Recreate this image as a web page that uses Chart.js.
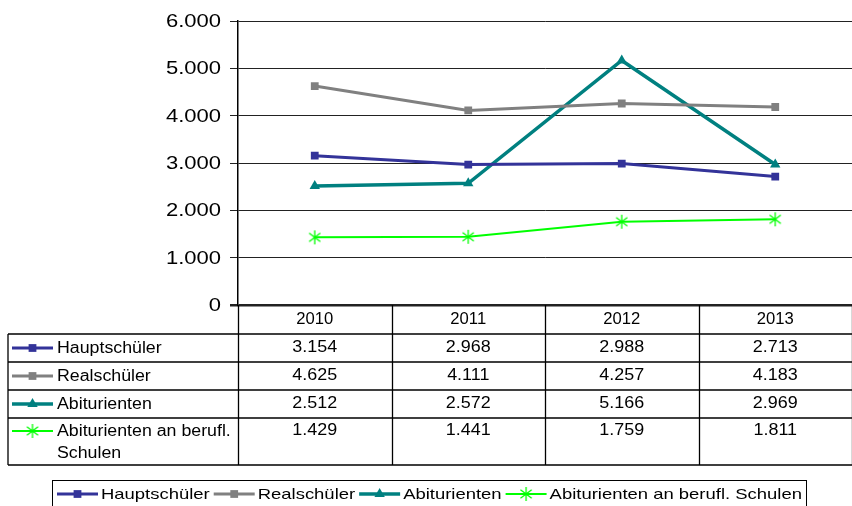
<!DOCTYPE html>
<html lang="de">
<head>
<meta charset="utf-8">
<title>Schulabgänger 2010–2013</title>
<script src="https://cdn.jsdelivr.net/npm/chart.js@4/dist/chart.umd.min.js"></script>
<style>
  html, body { margin: 0; padding: 0; background: #fff; overflow: hidden; }
  #wrap { width: 852px; height: 506px; position: relative; }
</style>
</head>
<body>
<div id="wrap"><canvas id="schulChart"></canvas></div>
<script>
// --- Daten ---
const years = ['2010', '2011', '2012', '2013'];
const hauptschueler = [3154, 2968, 2988, 2713];
const realschueler = [4625, 4111, 4257, 4183];
const abiturienten = [2512, 2572, 5166, 2969];
const abiBerufl = [1429, 1441, 1759, 1811];
const yTicks = [0, 1000, 2000, 3000, 4000, 5000, 6000];

const FONT = '"Liberation Sans", Arial, sans-serif';

// Zahl im deutschen Format (Tausenderpunkt)
function fmt(v) {
    return String(v).replace(/\B(?=(\d{3})+(?!\d))/g, '.');
}

// Text leicht horizontal gestreckt zeichnen
function drawText(ctx, text, x, y, align, sx) {
    ctx.save();
    ctx.translate(x, y);
    ctx.scale(sx, 1);
    ctx.textAlign = align;
    ctx.fillText(text, 0, 0);
    ctx.restore();
}

// Stern-Marker (X + senkrechter Strich)
function starMarker(color, size) {
    const c = document.createElement('canvas');
    c.width = c.height = size;
    const g = c.getContext('2d');
    g.strokeStyle = color;
    g.lineWidth = 1.3;
    const m = size / 2, r = size / 2 - 1;
    g.beginPath();
    g.moveTo(m - r * 0.8, m - r * 0.6); g.lineTo(m + r * 0.8, m + r * 0.6);
    g.moveTo(m + r * 0.8, m - r * 0.6); g.lineTo(m - r * 0.8, m + r * 0.6);
    g.moveTo(m, m - r); g.lineTo(m, m + r);
    g.stroke();
    return c;
}

const datasets = [
    { label: 'Hauptschüler', data: hauptschueler, borderColor: '#333399', backgroundColor: '#333399',
      borderWidth: 3, pointStyle: 'rect', pointRadius: 5.5 },
    { label: 'Realschüler', data: realschueler, borderColor: '#808080', backgroundColor: '#808080',
      borderWidth: 3, pointStyle: 'rect', pointRadius: 5.5 },
    { label: 'Abiturienten', data: abiturienten, borderColor: '#008080', backgroundColor: '#008080',
      borderWidth: 3.5, pointStyle: 'triangle', pointRadius: 6 },
    { label: 'Abiturienten an berufl. Schulen', data: abiBerufl, borderColor: '#00ff00', backgroundColor: '#00ff00',
      borderWidth: 2, pointStyle: starMarker('#00ff00', 16), pointRadius: 8 }
];
datasets.forEach(d => { d.tension = 0; d.pointBorderWidth = 0; d.pointHoverRadius = d.pointRadius; });

// --- Achsenbeschriftung, Datentabelle und Legende ---
const tablePlugin = {
    id: 'dataTable',
    afterDraw(chart) {
        const { ctx, chartArea: a } = chart;
        const xs = chart.scales.x, ys = chart.scales.y;
        const step = xs.getPixelForValue(1) - xs.getPixelForValue(0);
        const left = 8;
        const right = chart.width;

        ctx.save();
        ctx.fillStyle = '#000';
        ctx.textBaseline = 'middle';

        // y-Beschriftung
        ctx.font = '18.5px ' + FONT;
        ys.ticks.forEach(t => {
            drawText(ctx, fmt(t.value), 221, ys.getPixelForValue(t.value) + 1, 'right', 1.19);
        });

        // Tabellenzeilen
        const top = a.bottom;
        const rowH = [29, 28, 28, 28, 47];
        const rowY = [top];
        rowH.forEach(h => rowY.push(rowY[rowY.length - 1] + h));

        ctx.strokeStyle = '#000';
        ctx.lineWidth = 1.3;
        ctx.beginPath();
        for (let r = 1; r < rowY.length; r++) {
            ctx.moveTo(left, rowY[r]); ctx.lineTo(right, rowY[r]);
        }
        ctx.moveTo(left, rowY[1]); ctx.lineTo(left, rowY[rowY.length - 1]);
        for (let i = 0; i <= years.length; i++) {
            const ex = Math.round(xs.getPixelForValue(i) - step / 2) + 0.5;
            ctx.moveTo(ex, top); ctx.lineTo(ex, rowY[rowY.length - 1]);
        }
        ctx.stroke();

        // Kopfzeile (Jahre)
        ctx.font = '16px ' + FONT;
        years.forEach((yr, i) => drawText(ctx, yr, xs.getPixelForValue(i), top + 15, 'center', 1.04));

        // Datenzeilen
        chart.data.datasets.forEach((ds, r) => {
            const cy = r < 3 ? (rowY[r + 1] + rowY[r + 2]) / 2 : rowY[r + 1] + 13;
            // Legendenschlüssel
            ctx.strokeStyle = ds.borderColor;
            ctx.lineWidth = ds.borderWidth;
            ctx.beginPath(); ctx.moveTo(12, cy); ctx.lineTo(53, cy); ctx.stroke();
            ctx.fillStyle = ds.backgroundColor;
            Chart.helpers.drawPoint(ctx, { pointStyle: ds.pointStyle, radius: ds.pointRadius, rotation: 0, borderWidth: 0 }, 32.5, cy);
            ctx.fillStyle = '#000';
            ctx.font = '16px ' + FONT;
            if (r < 3) {
                drawText(ctx, ds.label, 57, cy + 1, 'left', 1.11);
            } else {
                drawText(ctx, 'Abiturienten an berufl.', 57, cy + 1, 'left', 1.11);
                drawText(ctx, 'Schulen', 57, cy + 23, 'left', 1.11);
            }
            ds.data.forEach((v, i) => drawText(ctx, fmt(v), xs.getPixelForValue(i), cy, 'center', 1.12));
        });

        // Legende unten
        const ly = 494;
        ctx.strokeStyle = '#000';
        ctx.lineWidth = 1;
        ctx.strokeRect(52.5, 480.5, 754, 30);
        ctx.font = '15px ' + FONT;
        let lx = 57;
        chart.data.datasets.forEach(ds => {
            ctx.strokeStyle = ds.borderColor;
            ctx.lineWidth = ds.borderWidth;
            ctx.beginPath(); ctx.moveTo(lx, ly); ctx.lineTo(lx + 41, ly); ctx.stroke();
            ctx.fillStyle = ds.backgroundColor;
            Chart.helpers.drawPoint(ctx, { pointStyle: ds.pointStyle, radius: ds.pointRadius, rotation: 0, borderWidth: 0 }, lx + 20.5, ly);
            ctx.fillStyle = '#000';
            drawText(ctx, ds.label, lx + 44, ly + 1, 'left', 1.23);
            lx += 44 + ctx.measureText(ds.label).width * 1.23 + 4;
        });
        ctx.restore();
    }
};

new Chart(document.getElementById('schulChart'), {
    type: 'line',
    data: { labels: years, datasets: datasets },
    options: {
        responsive: true,
        maintainAspectRatio: false,
        animation: false,
        layout: { autoPadding: false, padding: { top: 21, bottom: 201, left: 0, right: 0 } },
        plugins: {
            legend: { display: false },
            tooltip: { enabled: false }
        },
        scales: {
            x: {
                display: false,
                offset: true
            },
            y: {
                min: yTicks[0],
                max: yTicks[yTicks.length - 1],
                afterBuildTicks: s => { s.ticks = yTicks.map(v => ({ value: v })); },
                afterFit: s => { s.width = 238; },
                ticks: { display: false },
                border: { display: true, color: '#000', width: 1.5 },
                grid: {
                    color: '#222',
                    lineWidth: c => (c.tick && c.tick.value === 0 ? 2.5 : 1),
                    tickLength: 8,
                    drawTicks: true
                }
            }
        }
    },
    plugins: [tablePlugin]
});
</script>
</body>
</html>
